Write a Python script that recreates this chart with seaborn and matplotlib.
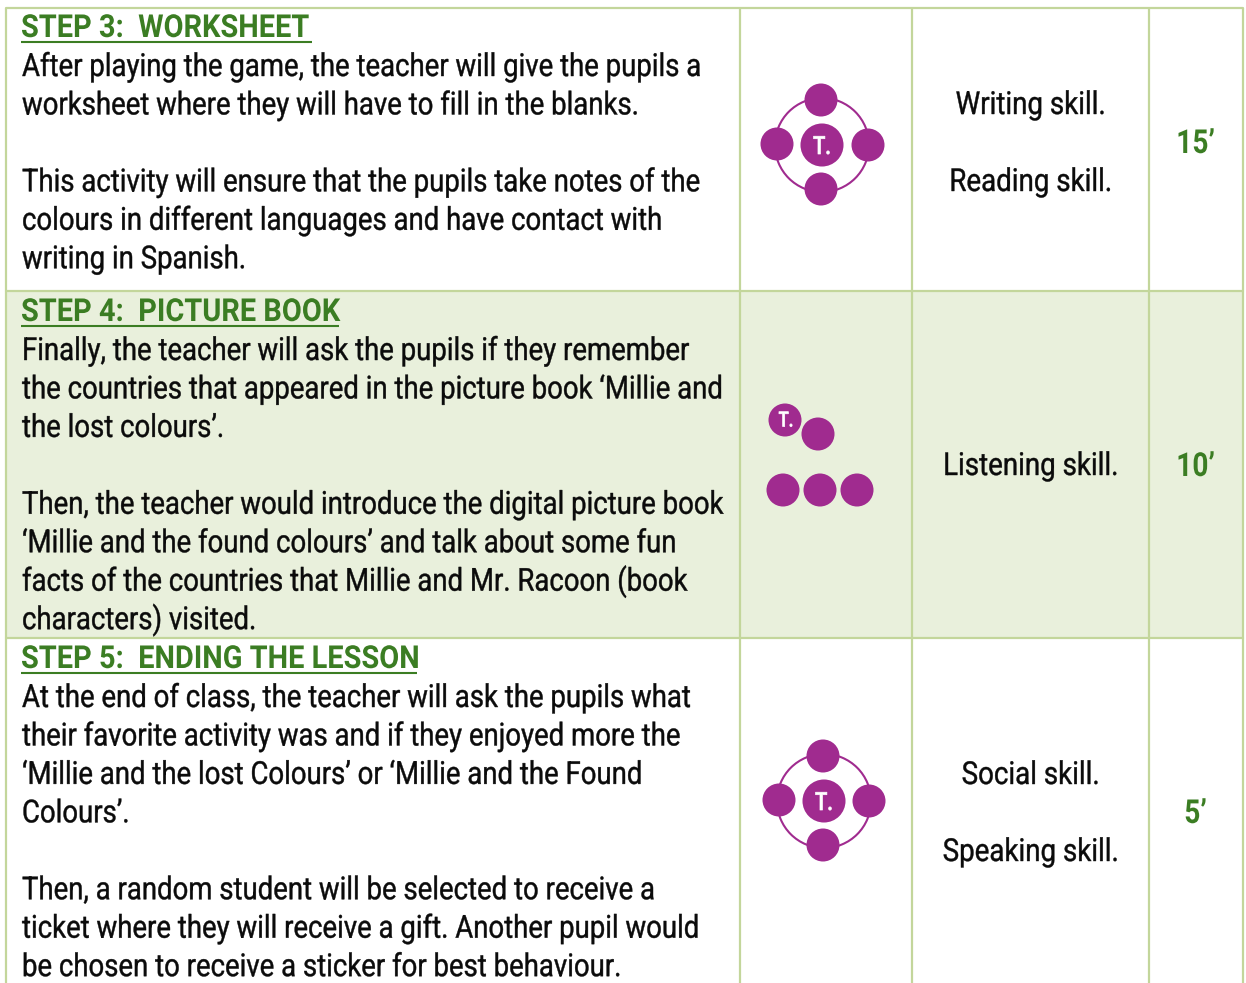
import matplotlib
matplotlib.use("Agg")
import matplotlib.pyplot as plt
import pandas as pd
import seaborn as sns
from matplotlib.patches import Rectangle, Arc
from matplotlib.patheffects import AbstractPathEffect
from matplotlib.transforms import Affine2D

sns.set_theme(style="white")
plt.rcParams['font.family'] = ['Roboto', 'DejaVu Sans']

W, H = 1246, 983
GREEN = "#3b7d23"; GRID = "#c3d69b"; SHADE = "#e9f0dc"; PURPLE = "#a02b8f"

titles = ["STEP 3:  WORKSHEET", "STEP 4:  PICTURE BOOK", "STEP 5:  ENDING THE LESSON"]
bodies = [
    ["After playing the game, the teacher will give the pupils a",
     "worksheet where they will have to fill in the blanks.", "",
     "This activity will ensure that the pupils take notes of the",
     "colours in different languages and have contact with",
     "writing in Spanish."],
    ["Finally, the teacher will ask the pupils if they remember",
     "the countries that appeared in the picture book ‘Millie and",
     "the lost colours’.", "",
     "Then, the teacher would introduce the digital picture book",
     "‘Millie and the found colours’ and talk about some fun",
     "facts of the countries that Millie and Mr. Racoon (book",
     "characters) visited."],
    ["At the end of class, the teacher will ask the pupils what",
     "their favorite activity was and if they enjoyed more the",
     "‘Millie and the lost Colours’ or ‘Millie and the Found",
     "Colours’.", "",
     "Then, a random student will be selected to receive a",
     "ticket where they will receive a gift. Another pupil would",
     "be chosen to receive a sticker for best behaviour."],
]
skills = [[("Writing skill.", 114), ("Reading skill.", 191)],
          [("Listening skill.", 475)],
          [("Social skill.", 784), ("Speaking skill.", 861)]]
times = ["15’", "10’", "5’"]
time_base = [153, 476, 823]
title_base = [37, 321, 668]
under_w = [291, 318, 396]
body_base = [76, 360, 707]
row_edges = [7.5, 291, 638, 990]
col_edges = [6, 740, 912, 1149, 1243]
PITCH = 38.45
BODY_SIZE = 22.8


class Squeeze(AbstractPathEffect):
    """Narrow a text horizontally about its anchor, as the condensed face of the original."""

    def __init__(self, x0, sx, stroke=0.0):
        super().__init__()
        self.x0, self.sx, self.stroke = x0, sx, stroke

    def draw_path(self, renderer, gc, tpath, affine, rgbFace=None):
        aff = affine + Affine2D().translate(-self.x0, 0).scale(self.sx, 1).translate(self.x0, 0)
        gc0 = renderer.new_gc()
        gc0.copy_properties(gc)
        gc0.set_linewidth(self.stroke)
        gc0.set_foreground(rgbFace)
        renderer.draw_path(gc0, tpath, aff, rgbFace)
        gc0.restore()


def put(ax, x, y, s, sx, stroke=0.3, **kw):
    t = ax.text(x, y, s, **kw)
    t.set_path_effects([Squeeze(x, sx, stroke)])
    return t


fig = plt.figure(figsize=(W / 100, H / 100), dpi=100, facecolor="white")
ax = fig.add_axes([0, 0, 1, 1])
ax.set_xlim(0, W); ax.set_ylim(H, 0); ax.axis("off")

ax.add_patch(Rectangle((col_edges[0], row_edges[1]), col_edges[-1] - col_edges[0],
                       row_edges[2] - row_edges[1], color=SHADE, lw=0, zorder=0))
for x in col_edges:
    ax.plot([x, x], [row_edges[0], H], color=GRID, lw=1.6, zorder=1, solid_capstyle="butt")
for y in row_edges[:3]:
    ax.plot([col_edges[0], col_edges[-1]], [y, y], color=GRID, lw=1.6, zorder=1)

for i in range(3):
    put(ax, 21, title_base[i], titles[i], 0.915, 0.0, color=GREEN, fontsize=BODY_SIZE,
        fontweight="bold", va="baseline", ha="left")
    ax.plot([21, 21 + under_w[i]], [title_base[i] + 5] * 2, color=GREEN, lw=1.5,
            solid_capstyle="butt")
    for k, line in enumerate(bodies[i]):
        put(ax, 22, body_base[i] + k * PITCH, line, 0.87, color="#0b0b0b", fontsize=BODY_SIZE,
            va="baseline", ha="left")
    for label, base in skills[i]:
        put(ax, 1030.5, base, label, 0.875, color="#0b0b0b", fontsize=BODY_SIZE,
            va="baseline", ha="center")
    put(ax, 1195.5, time_base[i], times[i], 0.85, 0.0, color=GREEN, fontsize=BODY_SIZE + 1,
        fontweight="bold", va="baseline", ha="center")

# seating diagrams
seat_x = [821, 777, 868, 821, 822, 785, 818, 783, 820, 857, 823, 779, 869, 823, 824]
seat_y = [100, 144, 145, 189, 145, 420, 434, 490, 490, 490, 756, 800, 801, 845, 801]
seat_size = [565, 565, 565, 565, 960, 565, 565, 565, 565, 565, 565, 565, 565, 565, 960]
seats = pd.DataFrame({"x": seat_x, "y": seat_y, "s": seat_size})
sns.scatterplot(data=seats, x="x", y="y", size="s", sizes=(min(seat_size), max(seat_size)),
                color=PURPLE, linewidth=0, legend=False, ax=ax, zorder=4)
ax.set_xlim(0, W); ax.set_ylim(H, 0); ax.axis("off")

ring_c = [(822, 145), (824, 801)]
for c in ring_c:
    ax.add_patch(Arc(c, 94, 94, color=PURPLE, lw=1.5, zorder=3))
teacher_x = [822, 786, 824]
teacher_y = [147, 421, 803]
teacher_sz = [18, 15, 18]
for x, y, s in zip(teacher_x, teacher_y, teacher_sz):
    put(ax, x, y, "T.", 0.8, 0.5, color="white", fontsize=s, fontweight="medium",
        ha="center", va="center", zorder=5)

fig.savefig("out.png", dpi=100)
